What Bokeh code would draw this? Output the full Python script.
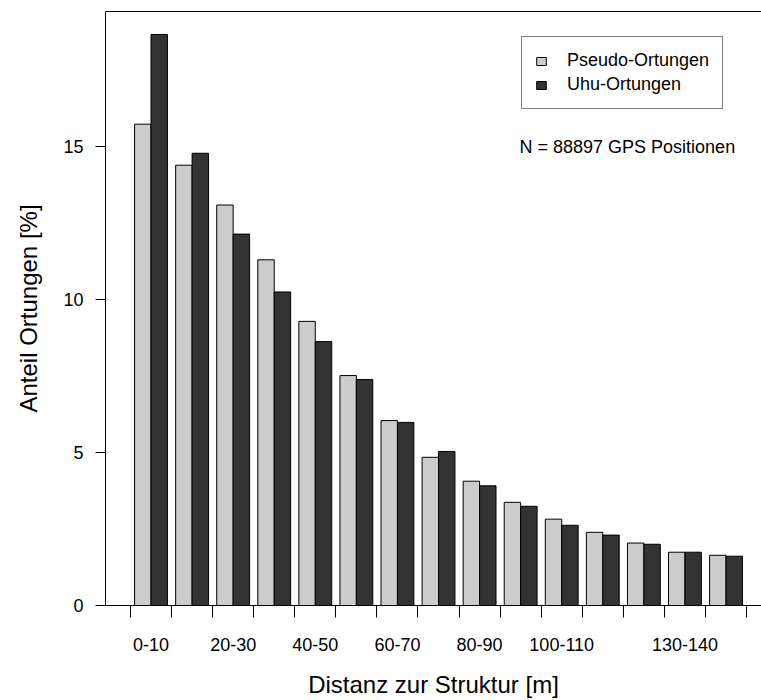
from bokeh.plotting import figure
from bokeh.models import (Range1d, FixedTicker, LinearAxis, Legend, LegendItem,
                          Label, ColumnDataSource)
from bokeh.embed import file_html
from bokeh.resources import INLINE

# ---- data ----
categories = ["0-10", "10-20", "20-30", "30-40", "40-50", "50-60", "60-70",
              "70-80", "80-90", "90-100", "100-110", "110-120", "120-130",
              "130-140", "140-150"]
pseudo = [15.72, 14.38, 13.08, 11.29, 9.28, 7.51, 6.04, 4.84, 4.06, 3.37,
          2.82, 2.39, 2.04, 1.74, 1.64]
uhu = [18.65, 14.77, 12.13, 10.24, 8.62, 7.38, 5.98, 5.03, 3.91, 3.24,
       2.62, 2.30, 2.00, 1.74, 1.61]
shown_labels = ["0-10", "20-30", "40-50", "60-70", "80-90", "100-110", "130-140"]
y_ticks = [0, 5, 10, 15]
series_names = ["Pseudo-Ortungen", "Uhu-Ortungen"]
n_positions = 88897

# ---- layout in bar-width units (R barplot, space = c(0, 0.5)) ----
group_step = 2.5
centers = [1.5 + group_step * i for i in range(len(categories))]
x_light = [c - 0.5 for c in centers]
x_dark = [c + 0.5 for c in centers]
boundaries = [0.25 + group_step * k for k in range(len(categories) + 1)]
label_pos = [centers[categories.index(l)] for l in shown_labels]

FONT = "Liberation Sans"

p = figure(width=761, height=700, output_backend="svg", toolbar_location=None,
           x_range=Range1d(-1.27, 38.66), y_range=Range1d(0, 19.4),
           min_border_left=105, min_border_right=0, min_border_top=11,
           min_border_bottom=94, x_axis_type=None, y_axis_type=None)
p.outline_line_color = None
p.grid.visible = False
p.background_fill_color = "white"
p.border_fill_color = "white"

src_l = ColumnDataSource(dict(x=x_light, top=pseudo))
src_d = ColumnDataSource(dict(x=x_dark, top=uhu))
r1 = p.vbar(x="x", top="top", width=1, bottom=0, source=src_l,
            fill_color="#CCCCCC", line_color="black", line_width=1)
r2 = p.vbar(x="x", top="top", width=1, bottom=0, source=src_d,
            fill_color="#333333", line_color="black", line_width=1)

# y axis
yax = LinearAxis(ticker=FixedTicker(ticks=y_ticks, minor_ticks=[]))
yax.axis_label = "Anteil Ortungen [%]"
yax.axis_label_text_font = FONT
yax.axis_label_text_font_size = "24px"
yax.axis_label_text_font_style = "normal"
yax.axis_label_text_color = "black"
yax.axis_label_standoff = 18
yax.major_label_text_font = FONT
yax.major_label_text_font_size = "18px"
yax.major_label_text_color = "black"
yax.major_label_orientation = "horizontal"
yax.major_label_standoff = 12
yax.major_tick_in = 0
yax.major_tick_out = 10
yax.minor_tick_line_color = None
yax.axis_line_color = "black"
p.add_layout(yax, "left")

# x axis: labels at group centers, ticks at group boundaries
xax = LinearAxis(ticker=FixedTicker(ticks=label_pos, minor_ticks=boundaries))
xax.major_label_overrides = {pos: lab for pos, lab in zip(label_pos, shown_labels)}
xax.axis_label = "Distanz zur Struktur [m]"
xax.axis_label_text_font = FONT
xax.axis_label_text_font_size = "24px"
xax.axis_label_text_font_style = "normal"
xax.axis_label_text_color = "black"
xax.axis_label_standoff = 17
xax.major_label_text_font = FONT
xax.major_label_text_font_size = "18px"
xax.major_label_text_color = "black"
xax.major_label_standoff = 20
xax.major_tick_in = 0
xax.major_tick_out = 0
xax.major_tick_line_color = None
xax.minor_tick_in = 0
xax.minor_tick_out = 12
xax.minor_tick_line_color = "black"
xax.axis_line_color = "black"
p.add_layout(xax, "below")

# top frame line
tax = LinearAxis(ticker=FixedTicker(ticks=[], minor_ticks=[]))
tax.major_label_text_font_size = "0px"
tax.major_tick_out = 0
tax.major_tick_in = 0
tax.minor_tick_out = 0
tax.minor_tick_in = 0
tax.axis_line_color = "black"
p.add_layout(tax, "above")

legend = Legend(items=[LegendItem(label=series_names[0], renderers=[r1]),
                       LegendItem(label=series_names[1], renderers=[r2])],
                location=(416, 496))
legend.label_text_font = FONT
legend.label_text_font_size = "18px"
legend.label_text_color = "black"
legend.glyph_width = 12
legend.glyph_height = 10
legend.label_standoff = 20
legend.padding = 13
legend.spacing = 3
legend.margin = 0
legend.border_line_color = "black"
legend.border_line_width = 1
legend.background_fill_color = "white"
legend.background_fill_alpha = 1
p.add_layout(legend, "center")

p.add_layout(Label(x=23.93, y=14.97, text=f"N = {n_positions} GPS Positionen",
                   text_font=FONT, text_font_size="18px", text_color="black",
                   text_baseline="middle", text_align="left"))

open("out.html", "w").write(file_html(p, INLINE))
